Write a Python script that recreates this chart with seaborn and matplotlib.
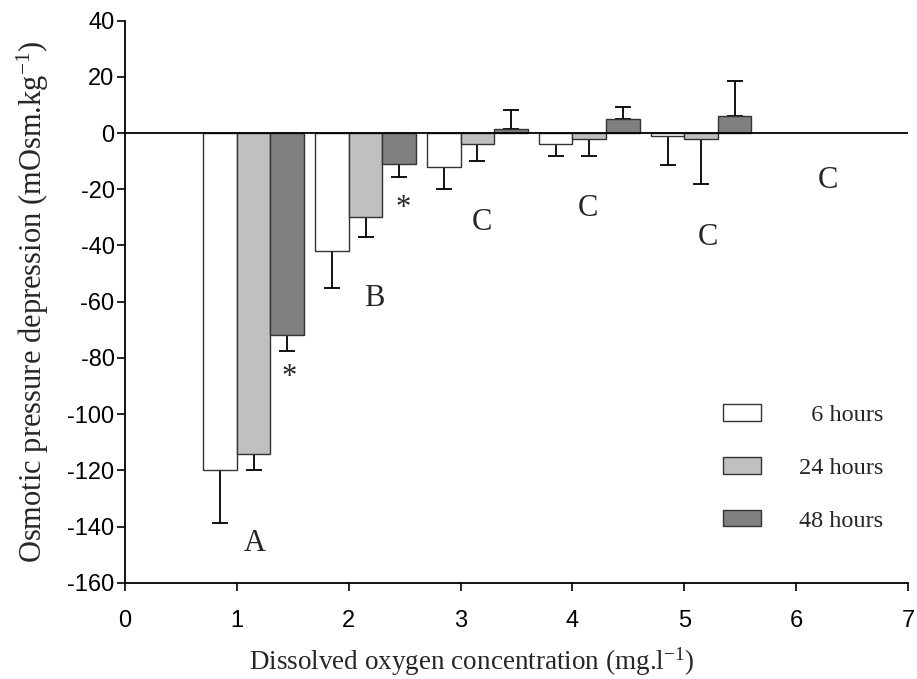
import matplotlib
matplotlib.use("Agg")
import matplotlib.pyplot as plt
import seaborn as sns
import pandas as pd
import numpy as np
from matplotlib.patches import Patch

# ---- data ----
do_levels = [1, 2, 3, 4, 5]
series = ["6 hours", "24 hours", "48 hours"]
mean_6h = [-120, -42, -12, -4, -1.2]
mean_24h = [-114, -30, -4, -2, -2]
mean_48h = [-72, -11, 1.5, 5, 6]
err_6h = [18.5, 13, 8, 4.3, 10]
err_24h = [6, 7, 6, 6, 16]
err_48h = [5.5, 4.5, 6.7, 4.4, 12.4]
letters = ["A", "B", "C", "C", "C", "C"]
letter_x = [1.16, 2.23, 3.19, 4.14, 5.21, 6.28]
letter_y = [-146, -59, -32, -27, -37, -17]
star_x = [1.47, 2.49]
star_y = [-87, -27]
colors = ["#ffffff", "#c0c0c0", "#808080"]
legend_labels = ["  6 hours", "24 hours", "48 hours"]

df = pd.DataFrame({
    "pos": np.tile(np.array(do_levels, dtype=float) + 0.15, 3),
    "value": mean_6h + mean_24h + mean_48h,
    "err": err_6h + err_24h + err_48h,
    "series": np.repeat(series, len(do_levels)),
})

sns.set_style("ticks")
plt.rcParams["font.family"] = ["Liberation Sans", "DejaVu Sans"]
plt.rcParams["mathtext.default"] = "regular"
plt.rcParams["axes.unicode_minus"] = False

fig = plt.figure(figsize=(9.17, 6.79), dpi=100)
ax = fig.add_axes([0.1363, 0.1414, 0.8540, 0.8284])

sns.barplot(data=df, x="pos", y="value", hue="series", hue_order=series,
            palette=colors, native_scale=True, width=0.9, errorbar=None,
            edgecolor="#333333", linewidth=1.0, legend=False, ax=ax, zorder=2)

# one-sided error bars away from zero
bars = [p for p in ax.patches]
errs = err_6h + err_24h + err_48h
vals = mean_6h + mean_24h + mean_48h
for p, e, v in zip(bars, errs, vals):
    cx = p.get_x() + p.get_width() / 2
    yerr = [[e], [0]] if v < 0 else [[0], [e]]
    ax.errorbar(cx, v, yerr=yerr, fmt="none", ecolor="black",
                elinewidth=1.3, capsize=6, capthick=1.3, zorder=1)

ax.axhline(0, color="black", linewidth=1.3, zorder=3)

for t, x, y in zip(letters, letter_x, letter_y):
    ax.text(x, y, t, ha="center", va="center", fontsize=22,
            family="Liberation Serif")
for x, y in zip(star_x, star_y):
    ax.text(x, y, "*", ha="center", va="center", fontsize=22,
            family="Liberation Serif")

ax.set_xlim(0, 7)
ax.set_ylim(-160, 40)
ax.set_xticks(range(0, 8))
ax.set_yticks(range(-160, 41, 20))
ax.tick_params(axis="both", labelsize=17, length=5.5, width=1.2, color="black",
               labelcolor="black", direction="out")
ax.tick_params(axis="x", pad=14)
ax.tick_params(axis="y", pad=2)
for s in ["left", "bottom"]:
    ax.spines[s].set_linewidth(1.3)
    ax.spines[s].set_color("black")
sns.despine(ax=ax)

ax.set_xlabel("Dissolved oxygen concentration (mg.l$^{-1}$)", fontsize=19.5,
              family="Liberation Serif", labelpad=10)
ax.xaxis.label.set_x(0.443)
ax.set_ylabel("Osmotic pressure depression (mOsm.kg$^{-1}$)", fontsize=22,
              family="Liberation Serif", labelpad=12)

handles = [Patch(facecolor=c, edgecolor="#333333", linewidth=1.0) for c in colors]
ax.legend(handles, legend_labels, loc="center right", bbox_to_anchor=(0.996, 0.2044),
          frameon=False, prop={"family": "Liberation Serif", "size": 17.5},
          handlelength=1.56, handleheight=0.66, labelspacing=1.28,
          handletextpad=1.56)

fig.savefig("out.png", dpi=100)
